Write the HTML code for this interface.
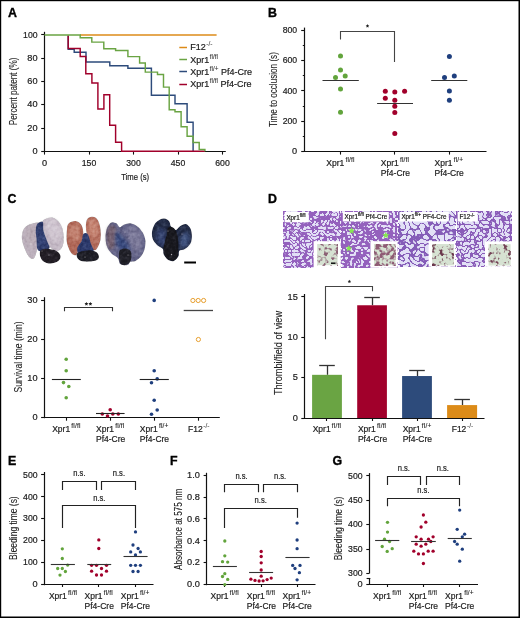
<!DOCTYPE html>
<html><head><meta charset="utf-8"><style>
html,body{margin:0;padding:0;background:#fff;}
body{width:520px;height:618px;overflow:hidden;}
svg{display:block;will-change:transform;}
text{font-family:"Liberation Sans", sans-serif;}
</style></head><body>
<svg width="520" height="618" viewBox="0 0 520 618">
<rect x="0" y="0" width="520" height="618" fill="#fff"/>
<text x="7.9" y="16.9" font-size="12.4" font-weight="bold" fill="#000" stroke="#000" stroke-width="0.35">A</text>
<line x1="44.5" y1="31.8" x2="44.5" y2="152.0" stroke="#111" stroke-width="1.2" stroke-linecap="butt"/>
<line x1="43.8" y1="151.5" x2="225.8" y2="151.5" stroke="#111" stroke-width="1.2" stroke-linecap="butt"/>
<line x1="41.2" y1="151.5" x2="44.4" y2="151.5" stroke="#111" stroke-width="1.1" stroke-linecap="butt"/>
<text x="37.6" y="154.1" font-size="9.2" text-anchor="end" fill="#1a1a1a" stroke="#1a1a1a" stroke-width="0.2">0</text>
<line x1="41.2" y1="128.5" x2="44.4" y2="128.5" stroke="#111" stroke-width="1.1" stroke-linecap="butt"/>
<text x="37.6" y="130.78" font-size="9.2" text-anchor="end" fill="#1a1a1a" stroke="#1a1a1a" stroke-width="0.2">20</text>
<line x1="41.2" y1="104.5" x2="44.4" y2="104.5" stroke="#111" stroke-width="1.1" stroke-linecap="butt"/>
<text x="37.6" y="107.46000000000001" font-size="9.2" text-anchor="end" fill="#1a1a1a" stroke="#1a1a1a" stroke-width="0.2">40</text>
<line x1="41.2" y1="81.5" x2="44.4" y2="81.5" stroke="#111" stroke-width="1.1" stroke-linecap="butt"/>
<text x="37.6" y="84.14" font-size="9.2" text-anchor="end" fill="#1a1a1a" stroke="#1a1a1a" stroke-width="0.2">60</text>
<line x1="41.2" y1="58.5" x2="44.4" y2="58.5" stroke="#111" stroke-width="1.1" stroke-linecap="butt"/>
<text x="37.6" y="60.82000000000001" font-size="9.2" text-anchor="end" fill="#1a1a1a" stroke="#1a1a1a" stroke-width="0.2">80</text>
<line x1="41.2" y1="34.5" x2="44.4" y2="34.5" stroke="#111" stroke-width="1.1" stroke-linecap="butt"/>
<text x="37.6" y="37.500000000000014" font-size="9.2" text-anchor="end" textLength="14.5" lengthAdjust="spacingAndGlyphs" fill="#1a1a1a" stroke="#1a1a1a" stroke-width="0.2">100</text>
<line x1="44.5" y1="151.4" x2="44.5" y2="154.6" stroke="#111" stroke-width="1.1" stroke-linecap="butt"/>
<text x="44.5" y="166.0" font-size="9.2" text-anchor="middle" fill="#1a1a1a" stroke="#1a1a1a" stroke-width="0.2">0</text>
<line x1="89.5" y1="151.4" x2="89.5" y2="154.6" stroke="#111" stroke-width="1.1" stroke-linecap="butt"/>
<text x="89.0" y="166.0" font-size="9.2" text-anchor="middle" textLength="14.5" lengthAdjust="spacingAndGlyphs" fill="#1a1a1a" stroke="#1a1a1a" stroke-width="0.2">150</text>
<line x1="133.5" y1="151.4" x2="133.5" y2="154.6" stroke="#111" stroke-width="1.1" stroke-linecap="butt"/>
<text x="133.5" y="166.0" font-size="9.2" text-anchor="middle" textLength="14.5" lengthAdjust="spacingAndGlyphs" fill="#1a1a1a" stroke="#1a1a1a" stroke-width="0.2">300</text>
<line x1="178.5" y1="151.4" x2="178.5" y2="154.6" stroke="#111" stroke-width="1.1" stroke-linecap="butt"/>
<text x="178.0" y="166.0" font-size="9.2" text-anchor="middle" textLength="14.5" lengthAdjust="spacingAndGlyphs" fill="#1a1a1a" stroke="#1a1a1a" stroke-width="0.2">450</text>
<line x1="222.5" y1="151.4" x2="222.5" y2="154.6" stroke="#111" stroke-width="1.1" stroke-linecap="butt"/>
<text x="222.5" y="166.0" font-size="9.2" text-anchor="middle" textLength="14.5" lengthAdjust="spacingAndGlyphs" fill="#1a1a1a" stroke="#1a1a1a" stroke-width="0.2">600</text>
<text x="135.2" y="179.9" font-size="9.8" text-anchor="middle" textLength="28" lengthAdjust="spacingAndGlyphs" fill="#1a1a1a" stroke="#1a1a1a" stroke-width="0.2">Time (s)</text>
<text transform="translate(17.1,125.2) rotate(-90)" x="0" y="0" font-size="10.8" textLength="67.6" lengthAdjust="spacingAndGlyphs" fill="#222" stroke="#222" stroke-width="0.1">Percent patent (%)</text>
<polyline points="80.0,34.9 216.6,34.9" fill="none" stroke="#dc8b18" stroke-width="1.45" stroke-linejoin="miter"/>
<polyline points="68.2,35.6 68.2,49.3 74.2,49.3 74.2,52.3 86.0,52.3 86.0,62.0 109.8,62.0 109.8,65.8 127.9,65.8 127.9,68.3 151.4,68.3 151.4,95.3 175.0,95.3 175.0,103.8 187.1,103.8 187.1,122.3 193.1,122.3 193.1,151.0" fill="none" stroke="#2d4b7b" stroke-width="1.45" stroke-linejoin="miter"/>
<polyline points="68.2,35.6 68.2,48.4 80.2,48.4 80.2,56.4 85.8,56.4 85.8,73.8 91.9,73.8 91.9,82.9 97.9,82.9 97.9,109.0 103.9,109.0 103.9,94.8 109.7,94.8 109.7,125.3 115.6,125.3 115.6,142.3 121.6,142.3 121.6,151.3 204.9,151.3" fill="none" stroke="#a1002b" stroke-width="1.45" stroke-linejoin="miter"/>
<polyline points="44.4,34.9 80.2,34.9 80.2,37.8 91.8,37.8 91.8,42.1 103.8,42.1 103.8,48.8 115.6,48.8 115.6,50.5 127.9,50.5 127.9,56.6 139.6,56.6 139.6,62.9 145.3,62.9 145.3,72.1 157.5,72.1 157.5,74.4 163.5,74.4 163.5,87.1 169.2,87.1 169.2,109.8 175.0,109.8 175.0,111.7 181.1,111.7 181.1,126.7 187.1,126.7 187.1,136.2 193.1,136.2 193.1,142.5 199.2,142.5 199.2,149.4 204.9,149.4 204.9,151.3" fill="none" stroke="#6aa443" stroke-width="1.45" stroke-linejoin="miter"/>
<line x1="179.3" y1="47.5" x2="187.0" y2="47.5" stroke="#dc8b18" stroke-width="1.5" stroke-linecap="butt"/>
<line x1="179.3" y1="59.5" x2="187.0" y2="59.5" stroke="#6aa443" stroke-width="1.5" stroke-linecap="butt"/>
<line x1="179.3" y1="71.5" x2="187.0" y2="71.5" stroke="#2d4b7b" stroke-width="1.5" stroke-linecap="butt"/>
<line x1="179.3" y1="84.5" x2="187.0" y2="84.5" stroke="#a1002b" stroke-width="1.5" stroke-linecap="butt"/>
<text x="190.2" y="49.9" font-size="9" fill="#222" stroke="#222" stroke-width="0.2">F12<tspan font-size="6.6" dx="0.6" dy="-4.0" stroke-width="0.05" fill="#444">-/-</tspan></text>
<text x="190.2" y="62.6" font-size="9" fill="#222" stroke="#222" stroke-width="0.2">Xpr1<tspan font-size="6.4" dx="0.5" dy="-3.9" stroke-width="0.05" fill="#333">fl/fl</tspan></text>
<text x="190.2" y="74.9" font-size="9" fill="#222" stroke="#222" stroke-width="0.2">Xpr1<tspan font-size="6.4" dx="0.5" dy="-3.9" stroke-width="0.05" fill="#333">fl/+</tspan><tspan dy="3.9"> Pf4-Cre</tspan></text>
<text x="190.2" y="87.2" font-size="9" fill="#222" stroke="#222" stroke-width="0.2">Xpr1<tspan font-size="6.4" dx="0.5" dy="-3.9" stroke-width="0.05" fill="#333">fl/fl</tspan><tspan dy="3.9"> Pf4-Cre</tspan></text>
<text x="267.9" y="16.9" font-size="12.4" font-weight="bold" fill="#000" stroke="#000" stroke-width="0.35">B</text>
<line x1="304.5" y1="27.6" x2="304.5" y2="151.9" stroke="#111" stroke-width="1.2" stroke-linecap="butt"/>
<line x1="303.9" y1="151.5" x2="486.5" y2="151.5" stroke="#111" stroke-width="1.2" stroke-linecap="butt"/>
<line x1="301.2" y1="151.5" x2="304.5" y2="151.5" stroke="#111" stroke-width="1.1" stroke-linecap="butt"/>
<text x="297.2" y="154.0" font-size="9.2" text-anchor="end" fill="#1a1a1a" stroke="#1a1a1a" stroke-width="0.2">0</text>
<line x1="302.8" y1="136.5" x2="304.5" y2="136.5" stroke="#111" stroke-width="1.0" stroke-linecap="butt"/>
<line x1="301.2" y1="121.5" x2="304.5" y2="121.5" stroke="#111" stroke-width="1.1" stroke-linecap="butt"/>
<text x="297.2" y="123.80000000000001" font-size="9.2" text-anchor="end" textLength="14.5" lengthAdjust="spacingAndGlyphs" fill="#1a1a1a" stroke="#1a1a1a" stroke-width="0.2">200</text>
<line x1="302.8" y1="106.5" x2="304.5" y2="106.5" stroke="#111" stroke-width="1.0" stroke-linecap="butt"/>
<line x1="301.2" y1="90.5" x2="304.5" y2="90.5" stroke="#111" stroke-width="1.1" stroke-linecap="butt"/>
<text x="297.2" y="93.60000000000001" font-size="9.2" text-anchor="end" textLength="14.5" lengthAdjust="spacingAndGlyphs" fill="#1a1a1a" stroke="#1a1a1a" stroke-width="0.2">400</text>
<line x1="302.8" y1="75.5" x2="304.5" y2="75.5" stroke="#111" stroke-width="1.0" stroke-linecap="butt"/>
<line x1="301.2" y1="60.5" x2="304.5" y2="60.5" stroke="#111" stroke-width="1.1" stroke-linecap="butt"/>
<text x="297.2" y="63.40000000000002" font-size="9.2" text-anchor="end" textLength="14.5" lengthAdjust="spacingAndGlyphs" fill="#1a1a1a" stroke="#1a1a1a" stroke-width="0.2">600</text>
<line x1="302.8" y1="45.5" x2="304.5" y2="45.5" stroke="#111" stroke-width="1.0" stroke-linecap="butt"/>
<line x1="301.2" y1="30.5" x2="304.5" y2="30.5" stroke="#111" stroke-width="1.1" stroke-linecap="butt"/>
<text x="297.2" y="33.20000000000002" font-size="9.2" text-anchor="end" textLength="14.5" lengthAdjust="spacingAndGlyphs" fill="#1a1a1a" stroke="#1a1a1a" stroke-width="0.2">800</text>
<line x1="340.5" y1="151.3" x2="340.5" y2="154.6" stroke="#111" stroke-width="1.1" stroke-linecap="butt"/>
<line x1="394.5" y1="151.3" x2="394.5" y2="154.6" stroke="#111" stroke-width="1.1" stroke-linecap="butt"/>
<line x1="449.5" y1="151.3" x2="449.5" y2="154.6" stroke="#111" stroke-width="1.1" stroke-linecap="butt"/>
<text transform="translate(277.0,126.9) rotate(-90)" x="0" y="0" font-size="10.8" textLength="74.8" lengthAdjust="spacingAndGlyphs" fill="#222" stroke="#222" stroke-width="0.1">Time to occlusion (s)</text>
<text x="326.3" y="165.6" font-size="8.5" fill="#222" stroke="#222" stroke-width="0.2">Xpr1<tspan font-size="6.6" dx="1.2" dy="-4.0" stroke-width="0.1" letter-spacing="0.15">fl/fl</tspan></text>
<text x="380.8" y="165.6" font-size="8.5" fill="#222" stroke="#222" stroke-width="0.2">Xpr1<tspan font-size="6.6" dx="1.2" dy="-4.0" stroke-width="0.1" letter-spacing="0.15">fl/fl</tspan></text>
<text x="380.8" y="176.1" font-size="8.5" fill="#222" stroke="#222" stroke-width="0.2">Pf4-Cre</text>
<text x="434.5" y="165.6" font-size="8.5" fill="#222" stroke="#222" stroke-width="0.2">Xpr1<tspan font-size="6.6" dx="1.2" dy="-4.0" stroke-width="0.1" letter-spacing="0.15">fl/+</tspan></text>
<text x="434.5" y="176.1" font-size="8.5" fill="#222" stroke="#222" stroke-width="0.2">Pf4-Cre</text>
<polyline points="340.5,39.4 340.5,31.5 394.5,31.5 394.5,62.0" fill="none" stroke="#444" stroke-width="1.1"/>
<polygon points="367.50,24.10 368.06,25.23 369.31,25.41 368.40,26.29 368.62,27.54 367.50,26.95 366.38,27.54 366.60,26.29 365.69,25.41 366.94,25.23" fill="#222"/>
<circle cx="340.5" cy="55.9" r="2.5" fill="#62a43c"/>
<circle cx="340.5" cy="69.9" r="2.5" fill="#62a43c"/>
<circle cx="335.5" cy="77.5" r="2.5" fill="#62a43c"/>
<circle cx="345.2" cy="76.0" r="2.5" fill="#62a43c"/>
<circle cx="340.5" cy="88.9" r="2.5" fill="#62a43c"/>
<circle cx="340.5" cy="112.2" r="2.5" fill="#62a43c"/>
<circle cx="385.3" cy="91.2" r="2.5" fill="#a1002b"/>
<circle cx="394.8" cy="92.1" r="2.5" fill="#a1002b"/>
<circle cx="404.6" cy="91.2" r="2.5" fill="#a1002b"/>
<circle cx="385.3" cy="98.3" r="2.5" fill="#a1002b"/>
<circle cx="394.8" cy="100.2" r="2.5" fill="#a1002b"/>
<circle cx="394.8" cy="106.2" r="2.5" fill="#a1002b"/>
<circle cx="394.8" cy="112.4" r="2.5" fill="#a1002b"/>
<circle cx="394.8" cy="133.5" r="2.5" fill="#a1002b"/>
<circle cx="449.4" cy="56.4" r="2.5" fill="#1f3f7e"/>
<circle cx="444.5" cy="77.5" r="2.5" fill="#1f3f7e"/>
<circle cx="454.3" cy="76.0" r="2.5" fill="#1f3f7e"/>
<circle cx="449.4" cy="91.1" r="2.5" fill="#1f3f7e"/>
<circle cx="449.4" cy="100.2" r="2.5" fill="#1f3f7e"/>
<line x1="322.5" y1="80.5" x2="358.8" y2="80.5" stroke="#333" stroke-width="1.2" stroke-linecap="butt"/>
<line x1="377.1" y1="103.5" x2="413.0" y2="103.5" stroke="#333" stroke-width="1.2" stroke-linecap="butt"/>
<line x1="431.2" y1="80.5" x2="467.3" y2="80.5" stroke="#333" stroke-width="1.2" stroke-linecap="butt"/>
<text x="7.6" y="203.2" font-size="12.4" font-weight="bold" fill="#000" stroke="#000" stroke-width="0.35">C</text>
<defs><filter id="lb" x="-10%" y="-10%" width="120%" height="120%" color-interpolation-filters="sRGB"><feGaussianBlur in="SourceGraphic" stdDeviation="0.5" result="bl"/><feTurbulence type="fractalNoise" baseFrequency="0.3" numOctaves="2" seed="4" result="nz"/><feColorMatrix in="nz" type="matrix" values="0.5 0 0 0 0.25  0.5 0 0 0 0.25  0.5 0 0 0 0.25  0 0 0 0 1" result="gn"/><feBlend in="gn" in2="bl" mode="soft-light" result="sl"/><feComposite in="sl" in2="bl" operator="in"/></filter><filter id="lb2" x="-30%" y="-30%" width="160%" height="160%"><feGaussianBlur stdDeviation="1.6"/></filter></defs>
<g filter="url(#lb)">
<path d="M25.4,227.0 C27.7,224.8 33.2,223.1 35.8,222.7 C38.4,222.3 40.4,221.9 41.0,224.4 C41.6,226.9 39.8,233.5 39.2,237.4 C38.6,241.3 38.4,244.3 37.5,247.8 C36.6,251.3 35.5,256.8 34.0,258.2 C32.5,259.6 30.5,258.4 28.8,256.4 C27.1,254.4 24.9,249.4 23.7,246.0 C22.5,242.6 21.6,238.9 21.9,235.7 C22.2,232.5 23.1,229.2 25.4,227.0 Z" fill="#bcb0bc"/>
<path d="M43.5,220.1 C45.1,218.8 49.5,216.9 52.2,217.5 C55.0,218.1 58.1,220.8 60.0,223.6 C61.9,226.3 63.0,230.3 63.4,234.0 C63.8,237.7 63.8,243.1 62.6,246.0 C61.5,248.9 58.8,251.4 56.5,251.3 C54.2,251.2 50.7,248.1 48.7,245.2 C46.7,242.3 45.4,237.3 44.4,234.0 C43.4,230.7 42.9,227.6 42.7,225.3 C42.6,223.0 41.9,221.4 43.5,220.1 Z" fill="#c4b9c5"/>
<path d="M46.0,221.0 C47.0,219.2 50.8,218.8 53.0,219.5 C55.2,220.2 57.7,222.6 59.0,225.0 C60.3,227.4 61.2,231.2 61.0,234.0 C60.8,236.8 59.5,241.3 58.0,242.0 C56.5,242.7 53.8,240.0 52.0,238.0 C50.2,236.0 48.0,232.8 47.0,230.0 C46.0,227.2 45.0,222.8 46.0,221.0 Z" fill="#d4cad4" opacity="0.8" filter="url(#lb2)"/>
<path d="M26.0,230.0 C27.3,227.8 31.2,225.0 33.0,225.0 C34.8,225.0 36.7,227.2 37.0,230.0 C37.3,232.8 36.3,239.7 35.0,242.0 C33.7,244.3 30.7,244.7 29.0,244.0 C27.3,243.3 25.5,240.3 25.0,238.0 C24.5,235.7 24.7,232.2 26.0,230.0 Z" fill="#bbaeb8" opacity="0.8" filter="url(#lb2)"/>
<path d="M37.5,223.6 C38.6,222.2 41.7,220.7 42.7,221.8 C43.7,223.0 42.8,227.3 43.5,230.5 C44.2,233.7 46.0,238.0 47.0,240.9 C48.0,243.8 50.3,246.1 49.6,247.8 C48.9,249.5 44.7,251.0 42.7,251.3 C40.7,251.6 38.5,251.5 37.5,249.5 C36.5,247.5 36.9,242.3 36.6,239.1 C36.3,235.9 35.6,233.1 35.8,230.5 C35.9,227.9 36.4,225.0 37.5,223.6 Z" fill="#2f3c6c"/>
<path d="M39.0,232.0 C39.6,230.5 41.0,232.2 42.0,234.0 C43.0,235.8 45.0,240.8 45.0,243.0 C45.0,245.2 43.1,247.0 42.0,247.0 C40.9,247.0 39.0,245.5 38.5,243.0 C38.0,240.5 38.4,233.5 39.0,232.0 Z" fill="#3a4c80" opacity="0.6" filter="url(#lb2)"/>
<path d="M40.5,250.5 C41.6,249.2 44.3,248.7 47.0,248.8 C49.7,248.9 54.2,249.7 56.5,250.9 C58.8,252.1 60.2,254.3 60.5,256.0 C60.8,257.7 60.0,259.7 58.3,261.0 C56.6,262.3 53.0,263.5 50.5,263.6 C48.0,263.7 45.2,262.7 43.5,261.5 C41.8,260.3 40.7,258.3 40.2,256.5 C39.7,254.7 39.4,251.8 40.5,250.5 Z" fill="#231e26"/>
<path d="M68.6,223.6 C70.0,222.0 73.4,220.7 75.6,221.0 C77.8,221.3 80.3,222.9 81.6,225.3 C82.9,227.8 83.6,232.2 83.3,235.7 C83.0,239.1 81.1,242.8 79.9,246.0 C78.8,249.2 77.9,253.5 76.4,254.7 C75.0,255.9 72.8,255.0 71.2,253.0 C69.6,251.0 67.6,246.3 66.9,242.6 C66.2,238.8 66.6,233.7 66.9,230.5 C67.2,227.3 67.1,225.2 68.6,223.6 Z" fill="#b06858"/>
<path d="M87.7,218.4 C89.3,216.8 93.4,216.3 95.4,217.5 C97.4,218.7 98.9,221.7 99.8,225.3 C100.7,228.9 101.2,235.1 100.6,239.1 C100.0,243.1 97.9,248.1 96.3,249.5 C94.7,250.9 92.5,249.8 91.1,247.8 C89.7,245.8 88.6,240.9 87.7,237.4 C86.8,233.9 85.9,230.2 85.9,227.0 C85.9,223.8 86.1,220.0 87.7,218.4 Z" fill="#b46e5e"/>
<path d="M70.0,226.0 C71.3,224.5 75.3,223.0 77.0,224.0 C78.7,225.0 79.8,229.3 80.0,232.0 C80.2,234.7 79.3,238.7 78.0,240.0 C76.7,241.3 73.5,241.2 72.0,240.0 C70.5,238.8 69.3,235.3 69.0,233.0 C68.7,230.7 68.7,227.5 70.0,226.0 Z" fill="#c88a78" opacity="0.75" filter="url(#lb2)"/>
<path d="M89.0,221.0 C90.2,219.7 93.5,218.8 95.0,220.0 C96.5,221.2 97.8,225.0 98.0,228.0 C98.2,231.0 97.2,236.7 96.0,238.0 C94.8,239.3 92.3,237.7 91.0,236.0 C89.7,234.3 88.3,230.5 88.0,228.0 C87.7,225.5 87.8,222.3 89.0,221.0 Z" fill="#cc8e7c" opacity="0.75" filter="url(#lb2)"/>
<path d="M83.3,234.0 C84.3,232.8 86.4,232.3 87.7,234.0 C89.0,235.7 90.1,241.4 91.1,244.3 C92.1,247.2 94.3,249.6 93.7,251.3 C93.1,253.0 90.2,254.1 87.7,254.7 C85.2,255.3 80.7,255.8 79.0,254.7 C77.3,253.5 76.9,250.1 77.3,247.8 C77.7,245.5 80.6,243.2 81.6,240.9 C82.6,238.6 82.3,235.2 83.3,234.0 Z" fill="#2d3a6c"/>
<path d="M77.3,253.0 C78.9,251.6 84.5,250.6 87.7,250.4 C90.9,250.2 94.4,250.9 96.3,252.1 C98.2,253.2 99.1,255.9 98.9,257.3 C98.8,258.8 97.9,260.1 95.4,260.8 C93.0,261.5 87.1,261.9 84.2,261.6 C81.3,261.3 79.2,260.4 78.1,259.0 C76.9,257.6 75.7,254.4 77.3,253.0 Z" fill="#1e1e26"/>
<path d="M111.7,222.4 C113.0,222.2 115.7,222.9 117.0,223.7 C118.3,224.5 118.5,227.2 119.7,227.3 C120.9,227.5 122.3,225.3 124.1,224.6 C125.9,223.9 128.1,223.0 130.3,223.3 C132.5,223.6 135.3,224.9 137.4,226.4 C139.5,227.9 141.4,230.2 142.7,232.6 C144.0,234.9 145.1,237.7 145.4,240.5 C145.7,243.3 145.2,246.7 144.5,249.4 C143.8,252.1 142.4,254.6 140.9,256.5 C139.4,258.4 137.4,260.0 135.6,260.9 C133.8,261.8 131.5,261.2 130.3,261.8 C129.1,262.4 129.5,263.8 128.5,264.4 C127.5,265.0 125.6,265.4 124.1,265.3 C122.6,265.2 120.7,264.8 119.7,263.6 C118.7,262.4 119.2,259.8 117.9,258.2 C116.6,256.6 113.5,255.6 111.7,253.8 C109.9,252.0 108.3,250.1 107.3,247.6 C106.3,245.1 105.7,241.7 105.5,238.8 C105.3,235.9 105.8,232.4 106.4,230.0 C107.0,227.6 108.2,225.9 109.1,224.6 C110.0,223.3 110.4,222.6 111.7,222.4 Z" fill="#66668a"/>
<path d="M107.0,230.0 C107.8,226.8 110.5,225.0 112.0,225.0 C113.5,225.0 115.5,226.8 116.0,230.0 C116.5,233.2 115.8,240.7 115.0,244.0 C114.2,247.3 112.3,250.0 111.0,250.0 C109.7,250.0 107.7,247.3 107.0,244.0 C106.3,240.7 106.2,233.2 107.0,230.0 Z" fill="#7a6068" opacity="0.7" filter="url(#lb2)"/>
<path d="M128.0,227.0 C129.2,224.7 134.7,226.5 137.0,228.0 C139.3,229.5 141.3,232.7 142.0,236.0 C142.7,239.3 142.2,245.3 141.0,248.0 C139.8,250.7 136.8,253.0 135.0,252.0 C133.2,251.0 131.2,246.2 130.0,242.0 C128.8,237.8 126.8,229.3 128.0,227.0 Z" fill="#8a86a4" opacity="0.6" filter="url(#lb2)"/>
<path d="M116.0,232.0 C117.0,230.7 120.0,234.0 122.0,236.0 C124.0,238.0 126.7,241.7 128.0,244.0 C129.3,246.3 131.0,248.8 130.0,250.0 C129.0,251.2 124.3,252.0 122.0,251.0 C119.7,250.0 117.0,247.2 116.0,244.0 C115.0,240.8 115.0,233.3 116.0,232.0 Z" fill="#34467c" opacity="0.9" filter="url(#lb2)"/>
<path d="M120.0,250.0 C121.2,248.8 124.2,248.2 126.0,248.5 C127.8,248.8 130.2,249.9 131.0,252.0 C131.8,254.1 131.4,258.8 130.5,261.0 C129.6,263.2 127.2,264.6 125.5,265.0 C123.8,265.4 121.6,265.0 120.5,263.5 C119.4,262.0 119.1,258.2 119.0,256.0 C118.9,253.8 118.8,251.2 120.0,250.0 Z" fill="#202028"/>
<path d="M164.6,218.5 C166.1,218.8 168.1,219.8 169.2,221.2 C170.3,222.6 170.0,225.3 171.1,226.8 C172.2,228.3 174.2,230.2 175.7,230.0 C177.2,229.8 178.6,226.9 180.3,225.9 C182.0,224.9 184.2,223.6 185.9,224.0 C187.6,224.4 189.5,226.6 190.5,228.6 C191.5,230.6 191.9,233.5 191.9,236.0 C191.9,238.5 191.7,241.2 190.5,243.4 C189.3,245.6 186.8,247.7 184.9,248.9 C183.1,250.1 180.5,249.6 179.4,250.8 C178.3,252.0 179.4,254.6 178.5,256.3 C177.6,258.0 175.6,260.3 173.9,260.9 C172.2,261.5 170.0,261.1 168.3,260.0 C166.6,258.9 164.6,256.4 163.7,254.5 C162.8,252.7 163.9,250.5 162.8,248.9 C161.7,247.3 158.9,246.9 157.2,245.2 C155.5,243.5 153.4,241.2 152.6,238.8 C151.8,236.4 151.7,233.1 152.2,230.5 C152.7,227.9 154.1,224.9 155.4,223.1 C156.7,221.2 158.5,220.2 160.0,219.4 C161.5,218.6 163.1,218.2 164.6,218.5 Z" fill="#222b46"/>
<path d="M156.0,234.0 C156.7,232.0 158.5,228.3 160.0,228.0 C161.5,227.7 164.2,229.3 165.0,232.0 C165.8,234.7 165.8,241.7 165.0,244.0 C164.2,246.3 161.5,246.7 160.0,246.0 C158.5,245.3 156.7,242.0 156.0,240.0 C155.3,238.0 155.3,236.0 156.0,234.0 Z" fill="#42528a" opacity="0.6" filter="url(#lb2)"/>
<path d="M181.0,236.0 C182.2,234.3 185.5,231.7 187.0,232.0 C188.5,232.3 189.8,235.8 190.0,238.0 C190.2,240.2 189.3,243.3 188.0,245.0 C186.7,246.7 183.3,248.5 182.0,248.0 C180.7,247.5 180.2,244.0 180.0,242.0 C179.8,240.0 179.8,237.7 181.0,236.0 Z" fill="#4a5e92" opacity="0.7" filter="url(#lb2)"/>
<path d="M168.0,228.0 C168.8,226.8 170.7,226.5 172.0,227.0 C173.3,227.5 175.0,228.8 176.0,231.0 C177.0,233.2 177.7,236.0 178.0,240.0 C178.3,244.0 178.7,251.6 178.0,255.0 C177.3,258.4 175.7,259.9 173.9,260.5 C172.1,261.1 168.7,260.1 167.0,258.5 C165.3,256.9 163.8,253.9 163.5,251.0 C163.2,248.1 164.4,243.8 165.0,241.0 C165.6,238.2 166.5,236.2 167.0,234.0 C167.5,231.8 167.2,229.2 168.0,228.0 Z" fill="#18181e"/>
</g>
<circle cx="49" cy="255" r="0.6" fill="#e8e4ea" opacity="0.7"/>
<circle cx="128" cy="255" r="0.5" fill="#e8e4ea" opacity="0.7"/>
<circle cx="171.5" cy="254.5" r="0.7" fill="#e8e4ea" opacity="0.7"/>
<circle cx="85" cy="257" r="0.6" fill="#e8e4ea" opacity="0.7"/>
<circle cx="31" cy="244" r="0.7" fill="#e8e4ea" opacity="0.7"/>
<circle cx="54" cy="230" r="0.6" fill="#e8e4ea" opacity="0.7"/>
<circle cx="42" cy="251" r="0.5" fill="#e8e4ea" opacity="0.7"/>
<circle cx="49" cy="226" r="0.7" fill="#e8e4ea" opacity="0.7"/>
<circle cx="56" cy="236" r="0.6" fill="#e8e4ea" opacity="0.7"/>
<circle cx="28" cy="238" r="0.6" fill="#e8e4ea" opacity="0.7"/>
<circle cx="125" cy="232" r="0.5" fill="#e8e4ea" opacity="0.7"/>
<circle cx="129" cy="238" r="0.5" fill="#e8e4ea" opacity="0.7"/>
<circle cx="168" cy="231" r="0.5" fill="#e8e4ea" opacity="0.7"/>
<circle cx="182" cy="234" r="0.5" fill="#e8e4ea" opacity="0.7"/>
<line x1="184.2" y1="262.5" x2="196.0" y2="262.5" stroke="#000" stroke-width="2.0" stroke-linecap="butt"/>
<line x1="44.5" y1="297.2" x2="44.5" y2="418.20000000000005" stroke="#111" stroke-width="1.2" stroke-linecap="butt"/>
<line x1="43.8" y1="417.5" x2="219.8" y2="417.5" stroke="#111" stroke-width="1.2" stroke-linecap="butt"/>
<line x1="41.1" y1="417.5" x2="44.4" y2="417.5" stroke="#111" stroke-width="1.1" stroke-linecap="butt"/>
<text x="37.6" y="420.3" font-size="9.2" text-anchor="end" fill="#1a1a1a" stroke="#1a1a1a" stroke-width="0.2">0</text>
<line x1="41.1" y1="378.5" x2="44.4" y2="378.5" stroke="#111" stroke-width="1.1" stroke-linecap="butt"/>
<text x="37.6" y="381.3" font-size="9.2" text-anchor="end" fill="#1a1a1a" stroke="#1a1a1a" stroke-width="0.2">10</text>
<line x1="41.1" y1="339.5" x2="44.4" y2="339.5" stroke="#111" stroke-width="1.1" stroke-linecap="butt"/>
<text x="37.6" y="342.3" font-size="9.2" text-anchor="end" fill="#1a1a1a" stroke="#1a1a1a" stroke-width="0.2">20</text>
<line x1="41.1" y1="300.5" x2="44.4" y2="300.5" stroke="#111" stroke-width="1.1" stroke-linecap="butt"/>
<text x="37.6" y="303.3" font-size="9.2" text-anchor="end" fill="#1a1a1a" stroke="#1a1a1a" stroke-width="0.2">30</text>
<line x1="66.5" y1="417.6" x2="66.5" y2="420.7" stroke="#111" stroke-width="1.1" stroke-linecap="butt"/>
<line x1="110.5" y1="417.6" x2="110.5" y2="420.7" stroke="#111" stroke-width="1.1" stroke-linecap="butt"/>
<line x1="154.5" y1="417.6" x2="154.5" y2="420.7" stroke="#111" stroke-width="1.1" stroke-linecap="butt"/>
<line x1="198.5" y1="417.6" x2="198.5" y2="420.7" stroke="#111" stroke-width="1.1" stroke-linecap="butt"/>
<text transform="translate(21.9,392.4) rotate(-90)" x="0" y="0" font-size="10.8" textLength="70.9" lengthAdjust="spacingAndGlyphs" fill="#222" stroke="#222" stroke-width="0.1">Survival time (min)</text>
<text x="52.2" y="431.8" font-size="8.5" fill="#222" stroke="#222" stroke-width="0.2">Xpr1<tspan font-size="6.6" dx="1.2" dy="-4.0" stroke-width="0.1" letter-spacing="0.15">fl/fl</tspan></text>
<text x="96.0" y="431.8" font-size="8.5" fill="#222" stroke="#222" stroke-width="0.2">Xpr1<tspan font-size="6.6" dx="1.2" dy="-4.0" stroke-width="0.1" letter-spacing="0.15">fl/fl</tspan></text>
<text x="96.0" y="441.9" font-size="8.5" fill="#222" stroke="#222" stroke-width="0.2">Pf4-Cre</text>
<text x="139.8" y="431.8" font-size="8.5" fill="#222" stroke="#222" stroke-width="0.2">Xpr1<tspan font-size="6.6" dx="1.2" dy="-4.0" stroke-width="0.1" letter-spacing="0.15">fl/+</tspan></text>
<text x="139.8" y="441.9" font-size="8.5" fill="#222" stroke="#222" stroke-width="0.2">Pf4-Cre</text>
<text x="188.0" y="431.8" font-size="8.5" fill="#222" stroke="#222" stroke-width="0.2">F12<tspan font-size="6.6" dx="0.6" dy="-4.0" stroke-width="0.05" fill="#444">-/-</tspan></text>
<polyline points="64.5,311.3 64.5,307.5 112.5,307.5 112.5,311.3" fill="none" stroke="#333" stroke-width="1.1"/>
<polygon points="86.40,301.90 86.99,303.09 88.30,303.28 87.35,304.21 87.58,305.52 86.40,304.90 85.22,305.52 85.45,304.21 84.50,303.28 85.81,303.09" fill="#222"/>
<polygon points="90.40,301.90 90.99,303.09 92.30,303.28 91.35,304.21 91.58,305.52 90.40,304.90 89.22,305.52 89.45,304.21 88.50,303.28 89.81,303.09" fill="#222"/>
<circle cx="66.2" cy="359.2" r="1.8" fill="#62a43c"/>
<circle cx="66.2" cy="370.8" r="1.8" fill="#62a43c"/>
<circle cx="63.5" cy="382.6" r="1.8" fill="#62a43c"/>
<circle cx="68.8" cy="386.5" r="1.8" fill="#62a43c"/>
<circle cx="66.2" cy="397.8" r="1.8" fill="#62a43c"/>
<circle cx="102.3" cy="414.0" r="1.8" fill="#a1002b"/>
<circle cx="107.5" cy="416.0" r="1.8" fill="#a1002b"/>
<circle cx="110.2" cy="409.8" r="1.8" fill="#a1002b"/>
<circle cx="112.8" cy="414.0" r="1.8" fill="#a1002b"/>
<circle cx="118.3" cy="414.0" r="1.8" fill="#a1002b"/>
<circle cx="154.2" cy="300.4" r="1.8" fill="#1f3f7e"/>
<circle cx="154.2" cy="370.8" r="1.8" fill="#1f3f7e"/>
<circle cx="157.2" cy="378.9" r="1.8" fill="#1f3f7e"/>
<circle cx="151.5" cy="382.8" r="1.8" fill="#1f3f7e"/>
<circle cx="154.2" cy="400.3" r="1.8" fill="#1f3f7e"/>
<circle cx="157.2" cy="410.0" r="1.8" fill="#1f3f7e"/>
<circle cx="151.5" cy="414.2" r="1.8" fill="#1f3f7e"/>
<circle cx="192.9" cy="300.5" r="2.1" fill="none" stroke="#e8a030" stroke-width="1.0"/>
<circle cx="198.2" cy="300.5" r="2.1" fill="none" stroke="#e8a030" stroke-width="1.0"/>
<circle cx="203.6" cy="300.5" r="2.1" fill="none" stroke="#e8a030" stroke-width="1.0"/>
<circle cx="198.4" cy="339.5" r="2.1" fill="none" stroke="#e8a030" stroke-width="1.0"/>
<line x1="51.9" y1="379.5" x2="80.8" y2="379.5" stroke="#222" stroke-width="1.1" stroke-linecap="butt"/>
<line x1="96.0" y1="413.5" x2="124.6" y2="413.5" stroke="#222" stroke-width="1.1" stroke-linecap="butt"/>
<line x1="139.7" y1="379.5" x2="168.8" y2="379.5" stroke="#222" stroke-width="1.1" stroke-linecap="butt"/>
<line x1="183.7" y1="310.5" x2="213.0" y2="310.5" stroke="#444" stroke-width="1.3" stroke-linecap="butt"/>
<text x="267.9" y="203.2" font-size="12.4" font-weight="bold" fill="#000" stroke="#000" stroke-width="0.35">D</text>
<defs>
<filter id="tis0" x="0" y="0" width="1" height="1" color-interpolation-filters="sRGB">
 <feTurbulence type="fractalNoise" baseFrequency="0.3" numOctaves="1" seed="11" result="n"/>
 <feComponentTransfer in="n" result="b"><feFuncR type="table" tableValues="0 0 0 0 0 0 0 0 0 0 0 0 0 1 1 1 1 1 0 0 0 0 0 0 0 0 0 0 0 0 0"/></feComponentTransfer>
 <feColorMatrix in="b" type="matrix" values="0 0 0 0 0.58  0 0 0 0 0.38  0 0 0 0 0.74  1 0 0 0 0" result="c"/>
 <feGaussianBlur in="c" stdDeviation="0.55"/>
</filter>
<filter id="tis1" x="0" y="0" width="1" height="1" color-interpolation-filters="sRGB">
 <feTurbulence type="fractalNoise" baseFrequency="0.28" numOctaves="1" seed="18" result="n"/>
 <feComponentTransfer in="n" result="b"><feFuncR type="table" tableValues="0 0 0 0 0 0 0 0 0 0 0 0 1 1 1 1 1 1 1 0 0 0 0 0 0 0 0 0 0 0 0"/></feComponentTransfer>
 <feColorMatrix in="b" type="matrix" values="0 0 0 0 0.58  0 0 0 0 0.38  0 0 0 0 0.74  1 0 0 0 0" result="c"/>
 <feGaussianBlur in="c" stdDeviation="0.55"/>
</filter>
<filter id="tis2" x="0" y="0" width="1" height="1" color-interpolation-filters="sRGB">
 <feTurbulence type="fractalNoise" baseFrequency="0.2" numOctaves="1" seed="25" result="n"/>
 <feComponentTransfer in="n" result="b"><feFuncR type="table" tableValues="0 0 0 0 0 0 0 0 0 0 0 0 0 0 0 0 0 0 1 1 1 1 1 0 0 0 0 0 0 0 0 0 0 0 0 0 0 0 0 0 0"/></feComponentTransfer>
 <feColorMatrix in="b" type="matrix" values="0 0 0 0 0.52  0 0 0 0 0.36  0 0 0 0 0.72  1 0 0 0 0" result="c"/>
 <feGaussianBlur in="c" stdDeviation="0.55"/>
</filter>
<filter id="tis3" x="0" y="0" width="1" height="1" color-interpolation-filters="sRGB">
 <feTurbulence type="fractalNoise" baseFrequency="0.24" numOctaves="1" seed="32" result="n"/>
 <feComponentTransfer in="n" result="b"><feFuncR type="table" tableValues="0 0 0 0 0 0 0 0 0 0 0 0 0 0 0 0 0 0 1 1 1 1 1 0 0 0 0 0 0 0 0 0 0 0 0 0 0 0 0 0 0"/></feComponentTransfer>
 <feColorMatrix in="b" type="matrix" values="0 0 0 0 0.54  0 0 0 0 0.36  0 0 0 0 0.72  1 0 0 0 0" result="c"/>
 <feGaussianBlur in="c" stdDeviation="0.55"/>
</filter>
<filter id="ins0" x="0" y="0" width="1" height="1" color-interpolation-filters="sRGB">
 <feTurbulence type="fractalNoise" baseFrequency="0.25" numOctaves="2" seed="3" result="n"/>
 <feComponentTransfer in="n" result="b"><feFuncR type="linear" slope="-5" intercept="2.45"/></feComponentTransfer>
 <feColorMatrix in="b" type="matrix" values="0 0 0 0 0.55  0 0 0 0 0.38  0 0 0 0 0.46  1 0 0 0 0" result="c"/>
 <feGaussianBlur in="c" stdDeviation="0.4"/>
</filter>
<filter id="ins1" x="0" y="0" width="1" height="1" color-interpolation-filters="sRGB">
 <feTurbulence type="fractalNoise" baseFrequency="0.25" numOctaves="2" seed="8" result="n"/>
 <feComponentTransfer in="n" result="b"><feFuncR type="linear" slope="-5" intercept="2.9"/></feComponentTransfer>
 <feColorMatrix in="b" type="matrix" values="0 0 0 0 0.56  0 0 0 0 0.36  0 0 0 0 0.46  1 0 0 0 0" result="c"/>
 <feGaussianBlur in="c" stdDeviation="0.4"/>
</filter>
<filter id="ins2" x="0" y="0" width="1" height="1" color-interpolation-filters="sRGB">
 <feTurbulence type="fractalNoise" baseFrequency="0.25" numOctaves="2" seed="13" result="n"/>
 <feComponentTransfer in="n" result="b"><feFuncR type="linear" slope="-5" intercept="2.45"/></feComponentTransfer>
 <feColorMatrix in="b" type="matrix" values="0 0 0 0 0.42  0 0 0 0 0.22  0 0 0 0 0.30  1 0 0 0 0" result="c"/>
 <feGaussianBlur in="c" stdDeviation="0.4"/>
</filter>
<filter id="ins3" x="0" y="0" width="1" height="1" color-interpolation-filters="sRGB">
 <feTurbulence type="fractalNoise" baseFrequency="0.25" numOctaves="2" seed="18" result="n"/>
 <feComponentTransfer in="n" result="b"><feFuncR type="linear" slope="-5" intercept="2.35"/></feComponentTransfer>
 <feColorMatrix in="b" type="matrix" values="0 0 0 0 0.45  0 0 0 0 0.25  0 0 0 0 0.33  1 0 0 0 0" result="c"/>
 <feGaussianBlur in="c" stdDeviation="0.4"/>
</filter>
</defs>
<rect x="283.5" y="211.3" width="57.0" height="56.7" fill="#e2e0f6"/>
<rect x="283.5" y="211.3" width="57.0" height="56.7" fill="#000" filter="url(#tis0)"/>
<rect x="341.9" y="211.2" width="55.5" height="56.4" fill="#e2e0f6"/>
<rect x="341.9" y="211.2" width="55.5" height="56.4" fill="#000" filter="url(#tis1)"/>
<rect x="398.8" y="211.2" width="56.3" height="55.3" fill="#e2e0f6"/>
<rect x="398.8" y="211.2" width="56.3" height="55.3" fill="#000" filter="url(#tis2)"/>
<rect x="456.8" y="211.3" width="55.0" height="55.3" fill="#e2e0f6"/>
<rect x="456.8" y="211.3" width="55.0" height="55.3" fill="#000" filter="url(#tis3)"/>
<rect x="313.6" y="241.2" width="27.1" height="27.0" fill="#fff"/>
<rect x="317.2" y="244.0" width="20.4" height="21.2" fill="#d6e2d2"/>
<rect x="317.2" y="244.0" width="20.4" height="21.2" fill="#000" filter="url(#ins0)"/>
<rect x="370.4" y="241.2" width="27.2" height="26.6" fill="#fff"/>
<rect x="374.0" y="244.0" width="21.4" height="21.2" fill="#d6e2d2"/>
<rect x="374.0" y="244.0" width="21.4" height="21.2" fill="#000" filter="url(#ins1)"/>
<rect x="428.6" y="241.2" width="26.7" height="25.5" fill="#fff"/>
<rect x="432.2" y="244.0" width="21.8" height="21.3" fill="#d6e2d2"/>
<rect x="432.2" y="244.0" width="21.8" height="21.3" fill="#000" filter="url(#ins2)"/>
<rect x="485.0" y="241.4" width="27.0" height="25.4" fill="#fff"/>
<rect x="488.6" y="244.2" width="22.0" height="21.3" fill="#d6e2d2"/>
<rect x="488.6" y="244.2" width="22.0" height="21.3" fill="#000" filter="url(#ins3)"/>
<rect x="284.6" y="212.0" width="24.0" height="10.3" fill="#fff"/>
<text x="286.40000000000003" y="219.60000000000002" font-size="6.3" fill="#1a1a1a" stroke="#1a1a1a" stroke-width="0.2">Xpr1<tspan font-size="4.6" dy="-2.4">fl/fl</tspan></text>
<rect x="342.8" y="212.0" width="46.0" height="9.5" fill="#fff"/>
<text x="344.6" y="218.8" font-size="6.3" fill="#1a1a1a" stroke="#1a1a1a" stroke-width="0.2">Xpr1<tspan font-size="4.6" dy="-2.4">fl/fl</tspan><tspan dy="2.4"> Pf4-Cre</tspan></text>
<rect x="399.6" y="212.0" width="49.2" height="9.5" fill="#fff"/>
<text x="401.40000000000003" y="218.8" font-size="6.3" fill="#1a1a1a" stroke="#1a1a1a" stroke-width="0.2">Xpr1<tspan font-size="4.6" dy="-2.4">fl/+</tspan><tspan dy="2.4"> PF4-Cre</tspan></text>
<rect x="457.6" y="212.0" width="19.9" height="9.6" fill="#fff"/>
<text x="459.40000000000003" y="218.9" font-size="6.3" fill="#1a1a1a" stroke="#1a1a1a" stroke-width="0.2">F12<tspan font-size="4.6" dy="-2.4">-/-</tspan></text>
<polygon points="351.60,227.20 352.55,229.49 355.02,229.69 353.14,231.30 353.72,233.71 351.60,232.42 349.48,233.71 350.06,231.30 348.18,229.69 350.65,229.49" fill="#86e852"/>
<polygon points="385.80,231.80 386.75,234.09 389.22,234.29 387.34,235.90 387.92,238.31 385.80,237.02 383.68,238.31 384.26,235.90 382.38,234.29 384.85,234.09" fill="#86e852"/>
<polygon points="348.80,244.90 349.75,247.19 352.22,247.39 350.34,249.00 350.92,251.41 348.80,250.12 346.68,251.41 347.26,249.00 345.38,247.39 347.85,247.19" fill="#86e852"/>
<rect x="331" y="262.5" width="4.5" height="1.4" fill="#000"/>
<line x1="304.5" y1="294.0" x2="304.5" y2="418.6" stroke="#111" stroke-width="1.2" stroke-linecap="butt"/>
<line x1="303.59999999999997" y1="418.5" x2="484.5" y2="418.5" stroke="#111" stroke-width="1.2" stroke-linecap="butt"/>
<line x1="301.3" y1="418.5" x2="304.2" y2="418.5" stroke="#111" stroke-width="1.1" stroke-linecap="butt"/>
<text x="297.8" y="420.7" font-size="9.2" text-anchor="end" fill="#1a1a1a" stroke="#1a1a1a" stroke-width="0.2">0</text>
<line x1="301.3" y1="377.5" x2="304.2" y2="377.5" stroke="#111" stroke-width="1.1" stroke-linecap="butt"/>
<text x="297.8" y="380.34999999999997" font-size="9.2" text-anchor="end" fill="#1a1a1a" stroke="#1a1a1a" stroke-width="0.2">5</text>
<line x1="301.3" y1="337.5" x2="304.2" y2="337.5" stroke="#111" stroke-width="1.1" stroke-linecap="butt"/>
<text x="297.8" y="340.0" font-size="9.2" text-anchor="end" fill="#1a1a1a" stroke="#1a1a1a" stroke-width="0.2">10</text>
<line x1="301.3" y1="296.5" x2="304.2" y2="296.5" stroke="#111" stroke-width="1.1" stroke-linecap="butt"/>
<text x="297.8" y="299.65" font-size="9.2" text-anchor="end" fill="#1a1a1a" stroke="#1a1a1a" stroke-width="0.2">15</text>
<line x1="327.5" y1="374.8255" x2="327.5" y2="365.94849999999997" stroke="#333" stroke-width="1.3" stroke-linecap="butt"/>
<line x1="319.2" y1="365.5" x2="334.8" y2="365.5" stroke="#333" stroke-width="1.3" stroke-linecap="butt"/>
<rect x="312.1" y="374.8255" width="29.799999999999955" height="43.17450000000002" fill="#6aa443"/>
<line x1="372.5" y1="305.2621" x2="372.5" y2="297.3535" stroke="#333" stroke-width="1.3" stroke-linecap="butt"/>
<line x1="364.24999999999994" y1="297.5" x2="379.84999999999997" y2="297.5" stroke="#333" stroke-width="1.3" stroke-linecap="butt"/>
<rect x="357.2" y="305.2621" width="29.69999999999999" height="112.73790000000002" fill="#a1002b"/>
<line x1="417.5" y1="376.036" x2="417.5" y2="370.387" stroke="#333" stroke-width="1.3" stroke-linecap="butt"/>
<line x1="409.2" y1="370.5" x2="424.8" y2="370.5" stroke="#333" stroke-width="1.3" stroke-linecap="butt"/>
<rect x="402.1" y="376.036" width="29.799999999999955" height="41.964" fill="#2d4b7b"/>
<line x1="462.5" y1="405.088" x2="462.5" y2="399.439" stroke="#333" stroke-width="1.3" stroke-linecap="butt"/>
<line x1="454.3" y1="399.5" x2="469.90000000000003" y2="399.5" stroke="#333" stroke-width="1.3" stroke-linecap="butt"/>
<rect x="447.1" y="405.088" width="30.0" height="12.911999999999978" fill="#dc8b18"/>
<line x1="326.5" y1="418.0" x2="326.5" y2="421.0" stroke="#111" stroke-width="1.1" stroke-linecap="butt"/>
<line x1="372.5" y1="418.0" x2="372.5" y2="421.0" stroke="#111" stroke-width="1.1" stroke-linecap="butt"/>
<line x1="417.5" y1="418.0" x2="417.5" y2="421.0" stroke="#111" stroke-width="1.1" stroke-linecap="butt"/>
<line x1="462.5" y1="418.0" x2="462.5" y2="421.0" stroke="#111" stroke-width="1.1" stroke-linecap="butt"/>
<text transform="translate(282.0,395.1) rotate(-90)" x="0" y="0" font-size="10.8" textLength="84.2" lengthAdjust="spacingAndGlyphs" fill="#222" stroke="#222" stroke-width="0.1">Thrombi/field of view</text>
<text x="312.7" y="431.8" font-size="8.5" fill="#222" stroke="#222" stroke-width="0.2">Xpr1<tspan font-size="6.6" dx="1.2" dy="-4.0" stroke-width="0.1" letter-spacing="0.15">fl/fl</tspan></text>
<text x="357.9" y="431.8" font-size="8.5" fill="#222" stroke="#222" stroke-width="0.2">Xpr1<tspan font-size="6.6" dx="1.2" dy="-4.0" stroke-width="0.1" letter-spacing="0.15">fl/fl</tspan></text>
<text x="357.9" y="441.9" font-size="8.5" fill="#222" stroke="#222" stroke-width="0.2">Pf4-Cre</text>
<text x="402.7" y="431.8" font-size="8.5" fill="#222" stroke="#222" stroke-width="0.2">Xpr1<tspan font-size="6.6" dx="1.2" dy="-4.0" stroke-width="0.1" letter-spacing="0.15">fl/+</tspan></text>
<text x="402.7" y="441.9" font-size="8.5" fill="#222" stroke="#222" stroke-width="0.2">Pf4-Cre</text>
<text x="451.7" y="431.8" font-size="8.5" fill="#222" stroke="#222" stroke-width="0.2">F12<tspan font-size="6.6" dx="0.6" dy="-4.0" stroke-width="0.05" fill="#444">-/-</tspan></text>
<polyline points="325.5,339.2 325.5,286.5 372.5,286.5 372.5,291.3" fill="none" stroke="#444" stroke-width="1.1"/>
<polygon points="349.40,279.70 349.93,280.77 351.11,280.94 350.26,281.78 350.46,282.96 349.40,282.40 348.34,282.96 348.54,281.78 347.69,280.94 348.87,280.77" fill="#222"/>
<text x="7.9" y="464.9" font-size="12.4" font-weight="bold" fill="#000" stroke="#000" stroke-width="0.35">E</text>
<line x1="44.5" y1="472.0" x2="44.5" y2="585.2" stroke="#111" stroke-width="1.2" stroke-linecap="butt"/>
<line x1="43.9" y1="584.5" x2="153.5" y2="584.5" stroke="#111" stroke-width="1.2" stroke-linecap="butt"/>
<line x1="41.1" y1="584.5" x2="44.5" y2="584.5" stroke="#111" stroke-width="1.1" stroke-linecap="butt"/>
<text x="37.6" y="587.3000000000001" font-size="9.2" text-anchor="end" fill="#1a1a1a" stroke="#1a1a1a" stroke-width="0.2">0</text>
<line x1="41.1" y1="562.5" x2="44.5" y2="562.5" stroke="#111" stroke-width="1.1" stroke-linecap="butt"/>
<text x="37.6" y="565.35" font-size="9.2" text-anchor="end" textLength="14.5" lengthAdjust="spacingAndGlyphs" fill="#1a1a1a" stroke="#1a1a1a" stroke-width="0.2">100</text>
<line x1="41.1" y1="540.5" x2="44.5" y2="540.5" stroke="#111" stroke-width="1.1" stroke-linecap="butt"/>
<text x="37.6" y="543.4000000000001" font-size="9.2" text-anchor="end" textLength="14.5" lengthAdjust="spacingAndGlyphs" fill="#1a1a1a" stroke="#1a1a1a" stroke-width="0.2">200</text>
<line x1="41.1" y1="518.5" x2="44.5" y2="518.5" stroke="#111" stroke-width="1.1" stroke-linecap="butt"/>
<text x="37.6" y="521.45" font-size="9.2" text-anchor="end" textLength="14.5" lengthAdjust="spacingAndGlyphs" fill="#1a1a1a" stroke="#1a1a1a" stroke-width="0.2">300</text>
<line x1="41.1" y1="496.5" x2="44.5" y2="496.5" stroke="#111" stroke-width="1.1" stroke-linecap="butt"/>
<text x="37.6" y="499.5" font-size="9.2" text-anchor="end" textLength="14.5" lengthAdjust="spacingAndGlyphs" fill="#1a1a1a" stroke="#1a1a1a" stroke-width="0.2">400</text>
<line x1="41.1" y1="474.5" x2="44.5" y2="474.5" stroke="#111" stroke-width="1.1" stroke-linecap="butt"/>
<text x="37.6" y="477.55" font-size="9.2" text-anchor="end" textLength="14.5" lengthAdjust="spacingAndGlyphs" fill="#1a1a1a" stroke="#1a1a1a" stroke-width="0.2">500</text>
<line x1="62.5" y1="584.6" x2="62.5" y2="587.0" stroke="#111" stroke-width="1.1" stroke-linecap="butt"/>
<line x1="98.5" y1="584.6" x2="98.5" y2="587.0" stroke="#111" stroke-width="1.1" stroke-linecap="butt"/>
<line x1="135.5" y1="584.6" x2="135.5" y2="587.0" stroke="#111" stroke-width="1.1" stroke-linecap="butt"/>
<text transform="translate(17.0,559.9) rotate(-90)" x="0" y="0" font-size="10.8" textLength="63.6" lengthAdjust="spacingAndGlyphs" fill="#222" stroke="#222" stroke-width="0.1">Bleeding time (s)</text>
<text x="48.9" y="598.8" font-size="8.5" fill="#222" stroke="#222" stroke-width="0.2">Xpr1<tspan font-size="6.6" dx="1.2" dy="-4.0" stroke-width="0.1" letter-spacing="0.15">fl/fl</tspan></text>
<text x="84.6" y="598.8" font-size="8.5" fill="#222" stroke="#222" stroke-width="0.2">Xpr1<tspan font-size="6.6" dx="1.2" dy="-4.0" stroke-width="0.1" letter-spacing="0.15">fl/fl</tspan></text>
<text x="84.6" y="609.2" font-size="8.5" fill="#222" stroke="#222" stroke-width="0.2">Pf4-Cre</text>
<text x="120.8" y="598.8" font-size="8.5" fill="#222" stroke="#222" stroke-width="0.2">Xpr1<tspan font-size="6.6" dx="1.2" dy="-4.0" stroke-width="0.1" letter-spacing="0.15">fl/+</tspan></text>
<text x="120.8" y="609.2" font-size="8.5" fill="#222" stroke="#222" stroke-width="0.2">Pf4-Cre</text>
<polyline points="62.5,490.0 62.5,481.5 96.5,481.5 96.5,490.0" fill="none" stroke="#222" stroke-width="1.15"/>
<polyline points="101.5,490.0 101.5,481.5 135.5,481.5 135.5,490.0" fill="none" stroke="#222" stroke-width="1.15"/>
<polyline points="62.5,528.1 62.5,505.5 135.5,505.5 135.5,528.1" fill="none" stroke="#222" stroke-width="1.15"/>
<text x="79.4" y="476.3" font-size="8.8" text-anchor="middle" textLength="12.2" lengthAdjust="spacingAndGlyphs" fill="#222" stroke="#222" stroke-width="0.2">n.s.</text>
<text x="118.9" y="476.3" font-size="8.8" text-anchor="middle" textLength="12.2" lengthAdjust="spacingAndGlyphs" fill="#222" stroke="#222" stroke-width="0.2">n.s.</text>
<text x="99.3" y="501.3" font-size="8.8" text-anchor="middle" textLength="12.2" lengthAdjust="spacingAndGlyphs" fill="#222" stroke="#222" stroke-width="0.2">n.s.</text>
<circle cx="62.3" cy="548.8" r="1.65" fill="#62a43c"/>
<circle cx="62.3" cy="558.5" r="1.65" fill="#62a43c"/>
<circle cx="67.7" cy="565.1" r="1.65" fill="#62a43c"/>
<circle cx="57.7" cy="568.5" r="1.65" fill="#62a43c"/>
<circle cx="62.3" cy="568.5" r="1.65" fill="#62a43c"/>
<circle cx="65.4" cy="571.5" r="1.65" fill="#62a43c"/>
<circle cx="60.0" cy="575.1" r="1.65" fill="#62a43c"/>
<circle cx="98.8" cy="539.9" r="1.65" fill="#a1002b"/>
<circle cx="98.8" cy="548.5" r="1.65" fill="#a1002b"/>
<circle cx="91.6" cy="565.3" r="1.65" fill="#a1002b"/>
<circle cx="96.5" cy="565.3" r="1.65" fill="#a1002b"/>
<circle cx="106.5" cy="565.3" r="1.65" fill="#a1002b"/>
<circle cx="91.6" cy="571.2" r="1.65" fill="#a1002b"/>
<circle cx="101.5" cy="568.5" r="1.65" fill="#a1002b"/>
<circle cx="106.5" cy="571.2" r="1.65" fill="#a1002b"/>
<circle cx="96.5" cy="575.0" r="1.65" fill="#a1002b"/>
<circle cx="101.5" cy="575.0" r="1.65" fill="#a1002b"/>
<circle cx="135.5" cy="531.9" r="1.65" fill="#1f3f7e"/>
<circle cx="133.0" cy="545.0" r="1.65" fill="#1f3f7e"/>
<circle cx="138.1" cy="548.5" r="1.65" fill="#1f3f7e"/>
<circle cx="130.7" cy="551.9" r="1.65" fill="#1f3f7e"/>
<circle cx="140.4" cy="551.9" r="1.65" fill="#1f3f7e"/>
<circle cx="135.5" cy="555.0" r="1.65" fill="#1f3f7e"/>
<circle cx="130.7" cy="565.3" r="1.65" fill="#1f3f7e"/>
<circle cx="135.5" cy="565.3" r="1.65" fill="#1f3f7e"/>
<circle cx="140.4" cy="565.3" r="1.65" fill="#1f3f7e"/>
<circle cx="133.0" cy="571.5" r="1.65" fill="#1f3f7e"/>
<circle cx="138.1" cy="571.5" r="1.65" fill="#1f3f7e"/>
<line x1="50.8" y1="564.5" x2="74.9" y2="564.5" stroke="#333" stroke-width="1.1" stroke-linecap="butt"/>
<line x1="87.3" y1="564.5" x2="111.2" y2="564.5" stroke="#333" stroke-width="1.1" stroke-linecap="butt"/>
<line x1="123.5" y1="556.5" x2="147.6" y2="556.5" stroke="#333" stroke-width="1.1" stroke-linecap="butt"/>
<text x="170.1" y="464.9" font-size="12.4" font-weight="bold" fill="#000" stroke="#000" stroke-width="0.35">F</text>
<line x1="206.5" y1="472.8" x2="206.5" y2="585.2" stroke="#111" stroke-width="1.2" stroke-linecap="butt"/>
<line x1="205.9" y1="584.5" x2="315.5" y2="584.5" stroke="#111" stroke-width="1.2" stroke-linecap="butt"/>
<line x1="203.6" y1="584.5" x2="206.5" y2="584.5" stroke="#111" stroke-width="1.1" stroke-linecap="butt"/>
<text x="199.8" y="587.3000000000001" font-size="9.2" text-anchor="end" fill="#1a1a1a" stroke="#1a1a1a" stroke-width="0.2">0.0</text>
<line x1="203.6" y1="562.5" x2="206.5" y2="562.5" stroke="#111" stroke-width="1.1" stroke-linecap="butt"/>
<text x="199.8" y="565.4200000000001" font-size="9.2" text-anchor="end" fill="#1a1a1a" stroke="#1a1a1a" stroke-width="0.2">0.2</text>
<line x1="203.6" y1="540.5" x2="206.5" y2="540.5" stroke="#111" stroke-width="1.1" stroke-linecap="butt"/>
<text x="199.8" y="543.5400000000001" font-size="9.2" text-anchor="end" fill="#1a1a1a" stroke="#1a1a1a" stroke-width="0.2">0.4</text>
<line x1="203.6" y1="518.5" x2="206.5" y2="518.5" stroke="#111" stroke-width="1.1" stroke-linecap="butt"/>
<text x="199.8" y="521.6600000000001" font-size="9.2" text-anchor="end" fill="#1a1a1a" stroke="#1a1a1a" stroke-width="0.2">0.6</text>
<line x1="203.6" y1="497.5" x2="206.5" y2="497.5" stroke="#111" stroke-width="1.1" stroke-linecap="butt"/>
<text x="199.8" y="499.78000000000003" font-size="9.2" text-anchor="end" fill="#1a1a1a" stroke="#1a1a1a" stroke-width="0.2">0.8</text>
<line x1="203.6" y1="475.5" x2="206.5" y2="475.5" stroke="#111" stroke-width="1.1" stroke-linecap="butt"/>
<text x="199.8" y="477.90000000000003" font-size="9.2" text-anchor="end" fill="#1a1a1a" stroke="#1a1a1a" stroke-width="0.2">1.0</text>
<line x1="224.5" y1="584.6" x2="224.5" y2="587.0" stroke="#111" stroke-width="1.1" stroke-linecap="butt"/>
<line x1="261.5" y1="584.6" x2="261.5" y2="587.0" stroke="#111" stroke-width="1.1" stroke-linecap="butt"/>
<line x1="297.5" y1="584.6" x2="297.5" y2="587.0" stroke="#111" stroke-width="1.1" stroke-linecap="butt"/>
<text transform="translate(182.2,569.9) rotate(-90)" x="0" y="0" font-size="10.8" textLength="81.0" lengthAdjust="spacingAndGlyphs" fill="#222" stroke="#222" stroke-width="0.1">Absorbance at 575 nm</text>
<text x="210.5" y="599.0" font-size="8.5" fill="#222" stroke="#222" stroke-width="0.2">Xpr1<tspan font-size="6.6" dx="1.2" dy="-4.0" stroke-width="0.1" letter-spacing="0.15">fl/fl</tspan></text>
<text x="246.8" y="599.0" font-size="8.5" fill="#222" stroke="#222" stroke-width="0.2">Xpr1<tspan font-size="6.6" dx="1.2" dy="-4.0" stroke-width="0.1" letter-spacing="0.15">fl/fl</tspan></text>
<text x="246.8" y="609.3" font-size="8.5" fill="#222" stroke="#222" stroke-width="0.2">Pf4-Cre</text>
<text x="282.5" y="599.0" font-size="8.5" fill="#222" stroke="#222" stroke-width="0.2">Xpr1<tspan font-size="6.6" dx="1.2" dy="-4.0" stroke-width="0.1" letter-spacing="0.15">fl/+</tspan></text>
<text x="282.5" y="609.3" font-size="8.5" fill="#222" stroke="#222" stroke-width="0.2">Pf4-Cre</text>
<polyline points="224.5,492.3 224.5,484.5 258.5,484.5 258.5,492.3" fill="none" stroke="#222" stroke-width="1.15"/>
<polyline points="263.5,492.3 263.5,484.5 297.5,484.5 297.5,492.3" fill="none" stroke="#222" stroke-width="1.15"/>
<polyline points="224.5,528.1 224.5,508.5 297.5,508.5 297.5,517.7" fill="none" stroke="#222" stroke-width="1.15"/>
<text x="241.5" y="479.3" font-size="8.8" text-anchor="middle" textLength="12.2" lengthAdjust="spacingAndGlyphs" fill="#222" stroke="#222" stroke-width="0.2">n.s.</text>
<text x="280.1" y="479.3" font-size="8.8" text-anchor="middle" textLength="12.2" lengthAdjust="spacingAndGlyphs" fill="#222" stroke="#222" stroke-width="0.2">n.s.</text>
<text x="260.7" y="503.3" font-size="8.8" text-anchor="middle" textLength="12.2" lengthAdjust="spacingAndGlyphs" fill="#222" stroke="#222" stroke-width="0.2">n.s.</text>
<circle cx="224.8" cy="541.0" r="1.65" fill="#62a43c"/>
<circle cx="224.8" cy="555.8" r="1.65" fill="#62a43c"/>
<circle cx="222.5" cy="561.7" r="1.65" fill="#62a43c"/>
<circle cx="227.7" cy="562.1" r="1.65" fill="#62a43c"/>
<circle cx="224.8" cy="573.7" r="1.65" fill="#62a43c"/>
<circle cx="222.5" cy="576.5" r="1.65" fill="#62a43c"/>
<circle cx="227.7" cy="579.4" r="1.65" fill="#62a43c"/>
<circle cx="224.8" cy="584.6" r="1.65" fill="#62a43c"/>
<circle cx="261.2" cy="551.5" r="1.65" fill="#a1002b"/>
<circle cx="261.2" cy="556.5" r="1.65" fill="#a1002b"/>
<circle cx="261.2" cy="562.8" r="1.65" fill="#a1002b"/>
<circle cx="261.2" cy="570.0" r="1.65" fill="#a1002b"/>
<circle cx="261.2" cy="576.2" r="1.65" fill="#a1002b"/>
<circle cx="250.9" cy="579.2" r="1.65" fill="#a1002b"/>
<circle cx="255.0" cy="580.4" r="1.65" fill="#a1002b"/>
<circle cx="259.1" cy="581.0" r="1.65" fill="#a1002b"/>
<circle cx="263.1" cy="580.8" r="1.65" fill="#a1002b"/>
<circle cx="267.1" cy="579.6" r="1.65" fill="#a1002b"/>
<circle cx="271.2" cy="578.1" r="1.65" fill="#a1002b"/>
<circle cx="297.1" cy="523.1" r="1.65" fill="#1f3f7e"/>
<circle cx="297.1" cy="540.0" r="1.65" fill="#1f3f7e"/>
<circle cx="297.1" cy="548.7" r="1.65" fill="#1f3f7e"/>
<circle cx="292.7" cy="565.4" r="1.65" fill="#1f3f7e"/>
<circle cx="295.0" cy="568.5" r="1.65" fill="#1f3f7e"/>
<circle cx="300.0" cy="565.4" r="1.65" fill="#1f3f7e"/>
<circle cx="299.4" cy="572.7" r="1.65" fill="#1f3f7e"/>
<circle cx="297.1" cy="579.8" r="1.65" fill="#1f3f7e"/>
<line x1="212.9" y1="566.5" x2="236.9" y2="566.5" stroke="#333" stroke-width="1.1" stroke-linecap="butt"/>
<line x1="249.1" y1="572.5" x2="273.1" y2="572.5" stroke="#333" stroke-width="1.1" stroke-linecap="butt"/>
<line x1="285.4" y1="557.5" x2="309.6" y2="557.5" stroke="#333" stroke-width="1.1" stroke-linecap="butt"/>
<text x="332.6" y="464.9" font-size="12.4" font-weight="bold" fill="#000" stroke="#000" stroke-width="0.35">G</text>
<line x1="369.5" y1="473.1" x2="369.5" y2="573.4" stroke="#111" stroke-width="1.2" stroke-linecap="butt"/>
<line x1="369.5" y1="578.8" x2="369.5" y2="585.0" stroke="#111" stroke-width="1.2" stroke-linecap="butt"/>
<line x1="366.6" y1="578.5" x2="370.4" y2="578.5" stroke="#111" stroke-width="1.1" stroke-linecap="butt"/>
<line x1="368.79999999999995" y1="584.5" x2="478.0" y2="584.5" stroke="#111" stroke-width="1.2" stroke-linecap="butt"/>
<line x1="366.3" y1="573.5" x2="369.4" y2="573.5" stroke="#111" stroke-width="1.1" stroke-linecap="butt"/>
<text x="362.6" y="576.1" font-size="9.2" text-anchor="end" textLength="14.5" lengthAdjust="spacingAndGlyphs" fill="#1a1a1a" stroke="#1a1a1a" stroke-width="0.2">300</text>
<line x1="366.3" y1="549.5" x2="369.4" y2="549.5" stroke="#111" stroke-width="1.1" stroke-linecap="butt"/>
<text x="362.6" y="551.7" font-size="9.2" text-anchor="end" textLength="14.5" lengthAdjust="spacingAndGlyphs" fill="#1a1a1a" stroke="#1a1a1a" stroke-width="0.2">350</text>
<line x1="366.3" y1="524.5" x2="369.4" y2="524.5" stroke="#111" stroke-width="1.1" stroke-linecap="butt"/>
<text x="362.6" y="527.3000000000001" font-size="9.2" text-anchor="end" textLength="14.5" lengthAdjust="spacingAndGlyphs" fill="#1a1a1a" stroke="#1a1a1a" stroke-width="0.2">400</text>
<line x1="366.3" y1="500.5" x2="369.4" y2="500.5" stroke="#111" stroke-width="1.1" stroke-linecap="butt"/>
<text x="362.6" y="502.9" font-size="9.2" text-anchor="end" textLength="14.5" lengthAdjust="spacingAndGlyphs" fill="#1a1a1a" stroke="#1a1a1a" stroke-width="0.2">450</text>
<line x1="366.3" y1="475.5" x2="369.4" y2="475.5" stroke="#111" stroke-width="1.1" stroke-linecap="butt"/>
<text x="362.6" y="478.49999999999994" font-size="9.2" text-anchor="end" textLength="14.5" lengthAdjust="spacingAndGlyphs" fill="#1a1a1a" stroke="#1a1a1a" stroke-width="0.2">500</text>
<line x1="366.3" y1="584.5" x2="369.4" y2="584.5" stroke="#111" stroke-width="1.1" stroke-linecap="butt"/>
<text x="362.6" y="587.1" font-size="9.2" text-anchor="end" fill="#1a1a1a" stroke="#1a1a1a" stroke-width="0.2">0</text>
<line x1="387.5" y1="584.4" x2="387.5" y2="587.0" stroke="#111" stroke-width="1.1" stroke-linecap="butt"/>
<line x1="423.5" y1="584.4" x2="423.5" y2="587.0" stroke="#111" stroke-width="1.1" stroke-linecap="butt"/>
<line x1="459.5" y1="584.4" x2="459.5" y2="587.0" stroke="#111" stroke-width="1.1" stroke-linecap="butt"/>
<text transform="translate(342.0,560.3) rotate(-90)" x="0" y="0" font-size="10.8" textLength="63.6" lengthAdjust="spacingAndGlyphs" fill="#222" stroke="#222" stroke-width="0.1">Bleeding time (s)</text>
<text x="373.0" y="598.8" font-size="8.5" fill="#222" stroke="#222" stroke-width="0.2">Xpr1<tspan font-size="6.6" dx="1.2" dy="-4.0" stroke-width="0.1" letter-spacing="0.15">fl/fl</tspan></text>
<text x="408.8" y="598.8" font-size="8.5" fill="#222" stroke="#222" stroke-width="0.2">Xpr1<tspan font-size="6.6" dx="1.2" dy="-4.0" stroke-width="0.1" letter-spacing="0.15">fl/fl</tspan></text>
<text x="408.8" y="608.9" font-size="8.5" fill="#222" stroke="#222" stroke-width="0.2">Pf4-Cre</text>
<text x="445.0" y="598.8" font-size="8.5" fill="#222" stroke="#222" stroke-width="0.2">Xpr1<tspan font-size="6.6" dx="1.2" dy="-4.0" stroke-width="0.1" letter-spacing="0.15">fl/+</tspan></text>
<text x="445.0" y="608.9" font-size="8.5" fill="#222" stroke="#222" stroke-width="0.2">Pf4-Cre</text>
<polyline points="387.5,485.0 387.5,476.5 420.5,476.5 420.5,485.0" fill="none" stroke="#222" stroke-width="1.15"/>
<polyline points="426.5,485.0 426.5,476.5 459.5,476.5 459.5,485.0" fill="none" stroke="#222" stroke-width="1.15"/>
<polyline points="387.5,506.2 387.5,498.5 459.5,498.5 459.5,506.2" fill="none" stroke="#222" stroke-width="1.15"/>
<text x="403.8" y="471.0" font-size="8.8" text-anchor="middle" textLength="12.2" lengthAdjust="spacingAndGlyphs" fill="#222" stroke="#222" stroke-width="0.2">n.s.</text>
<text x="442.8" y="471.0" font-size="8.8" text-anchor="middle" textLength="12.2" lengthAdjust="spacingAndGlyphs" fill="#222" stroke="#222" stroke-width="0.2">n.s.</text>
<text x="423.4" y="493.1" font-size="8.8" text-anchor="middle" textLength="12.2" lengthAdjust="spacingAndGlyphs" fill="#222" stroke="#222" stroke-width="0.2">n.s.</text>
<circle cx="387.5" cy="522.3" r="1.65" fill="#62a43c"/>
<circle cx="387.5" cy="532.1" r="1.65" fill="#62a43c"/>
<circle cx="384.5" cy="539.2" r="1.65" fill="#62a43c"/>
<circle cx="389.6" cy="541.5" r="1.65" fill="#62a43c"/>
<circle cx="382.2" cy="546.5" r="1.65" fill="#62a43c"/>
<circle cx="392.2" cy="548.7" r="1.65" fill="#62a43c"/>
<circle cx="387.2" cy="551.4" r="1.65" fill="#62a43c"/>
<circle cx="423.4" cy="515.0" r="1.65" fill="#a1002b"/>
<circle cx="425.8" cy="522.2" r="1.65" fill="#a1002b"/>
<circle cx="421.1" cy="527.0" r="1.65" fill="#a1002b"/>
<circle cx="416.2" cy="536.8" r="1.65" fill="#a1002b"/>
<circle cx="433.1" cy="536.8" r="1.65" fill="#a1002b"/>
<circle cx="421.1" cy="539.2" r="1.65" fill="#a1002b"/>
<circle cx="428.5" cy="539.2" r="1.65" fill="#a1002b"/>
<circle cx="430.8" cy="541.5" r="1.65" fill="#a1002b"/>
<circle cx="416.2" cy="544.2" r="1.65" fill="#a1002b"/>
<circle cx="425.8" cy="544.2" r="1.65" fill="#a1002b"/>
<circle cx="421.1" cy="546.2" r="1.65" fill="#a1002b"/>
<circle cx="413.8" cy="551.2" r="1.65" fill="#a1002b"/>
<circle cx="428.2" cy="551.2" r="1.65" fill="#a1002b"/>
<circle cx="433.1" cy="551.2" r="1.65" fill="#a1002b"/>
<circle cx="418.5" cy="553.9" r="1.65" fill="#a1002b"/>
<circle cx="423.4" cy="553.9" r="1.65" fill="#a1002b"/>
<circle cx="423.4" cy="563.5" r="1.65" fill="#a1002b"/>
<circle cx="459.7" cy="510.1" r="1.65" fill="#1f3f7e"/>
<circle cx="457.2" cy="529.3" r="1.65" fill="#1f3f7e"/>
<circle cx="464.6" cy="534.2" r="1.65" fill="#1f3f7e"/>
<circle cx="462.3" cy="536.8" r="1.65" fill="#1f3f7e"/>
<circle cx="454.6" cy="541.5" r="1.65" fill="#1f3f7e"/>
<circle cx="457.2" cy="544.2" r="1.65" fill="#1f3f7e"/>
<circle cx="462.3" cy="549.2" r="1.65" fill="#1f3f7e"/>
<circle cx="459.7" cy="561.2" r="1.65" fill="#1f3f7e"/>
<line x1="375.1" y1="540.5" x2="399.3" y2="540.5" stroke="#333" stroke-width="1.1" stroke-linecap="butt"/>
<line x1="411.1" y1="541.5" x2="435.8" y2="541.5" stroke="#333" stroke-width="1.1" stroke-linecap="butt"/>
<line x1="447.7" y1="538.5" x2="471.8" y2="538.5" stroke="#333" stroke-width="1.1" stroke-linecap="butt"/>
<rect x="0" y="0" width="520" height="1.2" fill="#000"/><rect x="0" y="0" width="1.2" height="618" fill="#000"/><rect x="518.5" y="0" width="1.5" height="618" fill="#000"/><rect x="0" y="616.5" width="520" height="1.5" fill="#000"/>
</svg>
</body></html>
